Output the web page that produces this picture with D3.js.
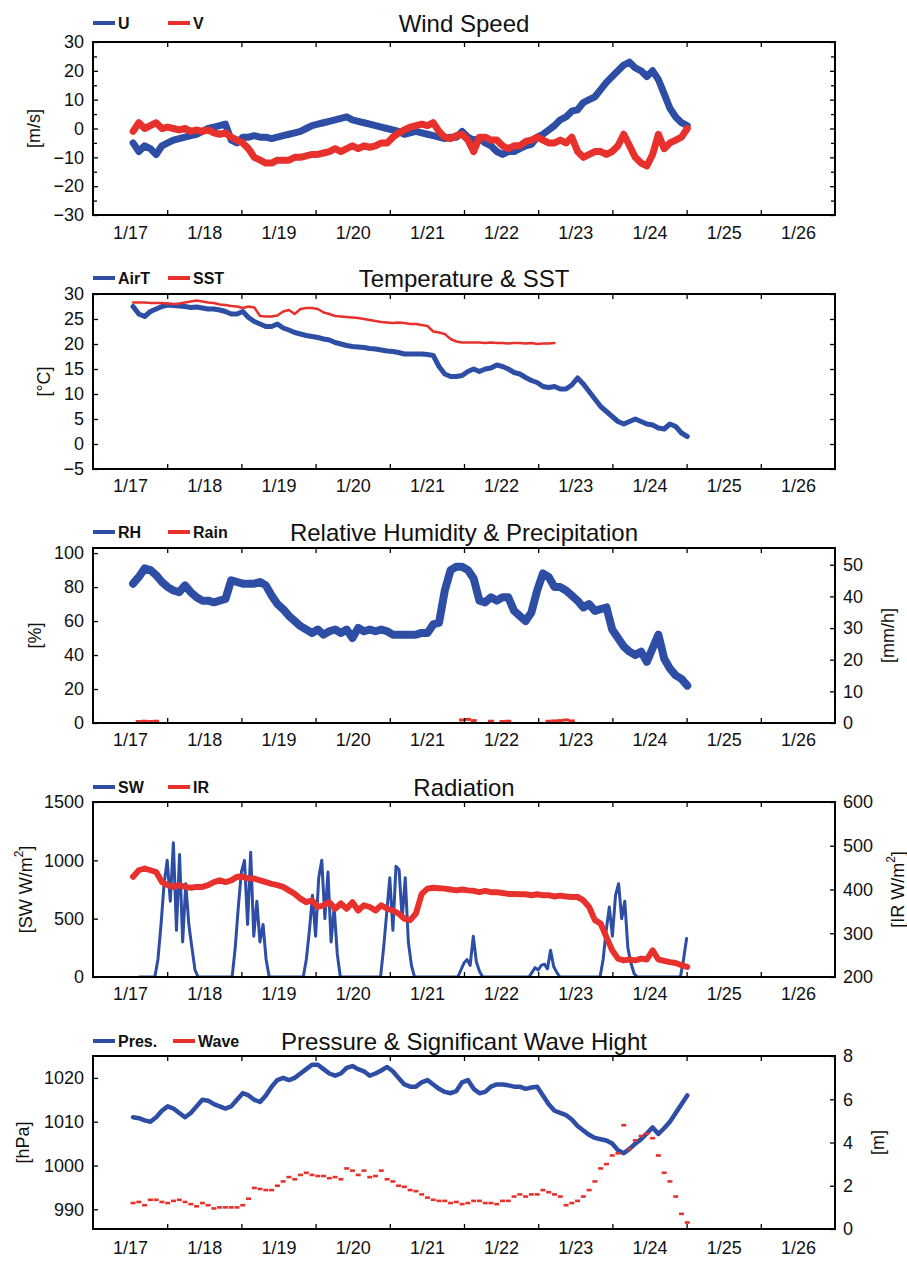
<!DOCTYPE html>
<html>
<head>
<meta charset="utf-8">
<script src="https://cdn.jsdelivr.net/npm/d3@7"></script>
<style>
  body { margin: 0; background: #fff; }
  svg { display: block; font-family: "Liberation Sans", Arial, Helvetica, sans-serif; }
</style>
</head>
<body>
<svg id="chart" width="907" height="1261"></svg>
<script>
// ---- time axis ----
const dayLabels = ["1/17","1/18","1/19","1/20","1/21","1/22","1/23","1/24","1/25","1/26"];
const dayValues = [17,18,19,20,21,22,23,24,25,26];
const dayBoundaries = [17.5,18.5,19.5,20.5,21.5,22.5,23.5,24.5,25.5];

// regular observation grid (day of January)
const sampleStart = 17.04;
const sampleStep = 0.0778;

// ---- wind [m/s] ----
const windU = [
  -5,-8,-6,-7,-9,-6,-5,-4,-3.5,-3,
  -2.5,-2,-1,0,0.5,1,1.5,-4,-5,-3,
  -3,-2.5,-3,-3,-3.5,-3,-2.5,-2,-1.5,-1,
  0,1,1.5,2,2.5,3,3.5,4,3,2.5,
  2,1.5,1,0.5,0,-0.5,-1,-2,-1.5,-1,
  -1.5,-2,-2.5,-3,-3.5,-3,-3,-1,-3,-4,
  -3.5,-5,-6,-8,-9,-8,-8,-7,-6,-5.5,
  -3,-2,-0.5,1,3,4,6,6.5,9,10,
  11,13.5,16,18,20,22,23,21,20,18,
  20,17,12,7,4,2,1
];
const windV = [
  -1,2,0,1,2,0,0.5,0,-0.5,0,
  -1,-0.5,-1,-0.5,-1.5,-2,-1.5,-3,-4,-5,
  -7,-10,-11,-12,-12,-11,-11,-11,-10,-10,
  -9.5,-9,-9,-8.5,-8,-7,-8,-7,-6,-7,
  -6,-6.5,-6,-5,-5,-3,-1.5,-0.5,0.5,1,
  1.5,1,2,-1,-3,-3.5,-2.5,-2,-4,-8,
  -3,-3,-4,-4,-6,-7,-6,-6,-4.5,-4,
  -3,-4,-5,-5,-4,-5,-3,-8,-10,-9,
  -8,-8,-9,-8,-6,-2,-6,-10,-12,-13,
  -9,-2,-7,-5,-4,-3,0
];

// ---- temperature [deg C] ----
const airT = [
  27.5,26,25.5,26.5,27,27.5,27.8,27.7,27.6,27.5,
  27.3,27.4,27.2,27,27,26.8,26.5,26,26,26.5,
  25.3,24.5,24,23.5,23.5,24,23.2,22.8,22.3,22,
  21.7,21.5,21.3,21,20.8,20.3,20,19.7,19.5,19.4,
  19.3,19.1,19,18.8,18.6,18.5,18.3,18,18,18,
  18,17.9,17.7,15.5,14,13.5,13.5,13.7,14.5,15,
  14.5,15,15.2,15.8,15.5,15,14.3,14,13.3,12.7,
  12.3,11.5,11.3,11.5,11,11,11.8,13.2,12,10.5,
  9,7.5,6.5,5.5,4.5,4,4.5,5,4.5,4,
  3.8,3.2,3,4,3.5,2.2,1.5
];
const sst = [
  28.3,28.3,28.3,28.2,28.2,28.2,28.1,28.0,28.1,28.3,
  28.5,28.7,28.5,28.3,28.2,27.9,27.8,27.6,27.5,27.2,
  27.5,27.3,25.6,25.5,25.5,25.7,26.5,26.8,26,27,
  27.2,27.2,27,26.3,26,25.6,25.5,25.4,25.3,25.2,
  25,24.8,24.6,24.4,24.3,24.2,24.3,24.2,24,24,
  23.8,23.6,22.5,22.3,22,21,20.5,20.3,20.3,20.3,
  20.3,20.2,20.3,20.2,20.2,20.1,20.2,20.2,20.1,20.2,
  20,20.1,20.1,20.2
];

// ---- humidity [%] and rain [mm/h] ----
const relHum = [
  82,86,91,90,87,83,80,78,77,81,
  77,74,72,72,71,72,73,84,83,82,
  82,82,83,81,75,70,67,63,60,57,
  55,53,55,52,54,55,53,55,50,56,
  54,55,54,55,54,52,52,52,52,52,
  53,53,58,59,78,90,92,92,90,85,
  72,71,74,72,74,74,66,63,60,65,
  78,88,86,80,80,78,75,72,68,70,
  66,67,68,55,50,45,42,40,42,36,
  44,52,38,32,28,26,22
];
const rain = [
  0,0.3,0.4,0.3,0.4,0,0,0,0,0,
  0,0,0,0,0,0,0,0,0,0,
  0,0,0,0,0,0,0,0,0,0,
  0,0,0,0,0,0,0,0,0,0,
  0,0,0,0,0,0,0,0,0,0,
  0,0,0,0,0,0,0,0.8,1.0,0.6,
  0,0,0.4,0,0.3,0.4,0,0,0,0,
  0,0,0.4,0.5,0.6,0.8,0.5,0,0,0,
  0,0,0,0,0,0,0,0,0,0,
  0,0,0,0,0,0,0
];

// ---- radiation [W/m2] ----
const infrared = [
  429,444,448,444,440,417,410,406,410,406,
  404,406,406,410,417,421,417,421,429,429,
  425,425,421,417,413,410,406,398,390,379,
  371,375,360,364,371,356,368,356,371,352,
  364,360,352,364,356,352,345,333,330,345,
  390,402,404,403,402,400,398,400,398,397,
  394,397,394,394,392,390,390,389,389,387,
  389,387,387,384,386,384,383,383,375,360,
  330,322,291,261,242,238,240,238,242,240,
  261,240,237,234,232,227,223
];
// shortwave: hourly values, first value at 03:00 on 1/17
const swStartHour = 3;
const shortwave = [
  0,0,0,0,0,
  0,150,450,800,1000,650,1150,400,1050,300,800,450,250,60,0,
  0,0,0,0,0,0,0,0,0,0,
  0,250,600,900,1000,450,1070,350,650,300,450,150,0,
  0,0,0,0,0,0,0,0,0,0,
  0,150,400,700,350,850,1000,500,900,300,600,200,0,
  0,0,0,0,0,0,0,0,0,0,0,0,
  0,250,550,850,400,950,920,500,850,300,100,0,
  0,0,0,0,0,0,0,0,0,0,0,0,0,
  0,60,120,150,100,350,130,50,0,
  0,0,0,0,0,0,0,0,0,0,0,0,0,0,
  0,40,80,60,100,110,70,230,90,40,0,
  0,0,0,0,0,0,0,0,0,0,0,0,
  0,150,400,600,350,700,800,500,650,250,120,30,0,
  0,0,0,0,0,0,0,0,0,0,0,0,0,
  0,150,330
];

// ---- pressure [hPa] and significant wave height [m] ----
const pressure = [
  1011,1010.8,1010.3,1010,1011,1012.5,1013.5,1013,1012,1011,
  1012,1013.5,1015,1014.8,1014,1013.5,1013,1013.5,1015,1016.5,
  1016,1015,1014.5,1016,1018,1019.5,1020,1019.5,1020,1021,
  1022,1023,1023,1022,1021,1020.5,1021,1022.3,1022.7,1022,
  1021.5,1020.5,1021,1021.7,1022.5,1021.5,1020,1018.5,1018,1018,
  1019,1019.5,1018.5,1017.5,1016.8,1016.5,1017,1019,1019.5,1017.5,
  1016.5,1016.8,1018,1018.5,1018.5,1018.3,1018,1018,1017.5,1017.8,
  1018,1016,1014,1012.5,1012,1011.5,1010.5,1009,1008,1007,
  1006.3,1006,1005.7,1005,1003.5,1002.8,1003.8,1005,1006,1007.3,
  1008.7,1007.2,1008.5,1010,1012,1014,1016
];
const waveHeight = [
  1.2,1.25,1.1,1.35,1.35,1.25,1.2,1.3,1.35,1.25,
  1.15,1.05,1.2,1.1,0.95,1.0,1.0,1.0,1.0,1.1,
  1.4,1.9,1.85,1.8,1.8,2.0,2.2,2.4,2.3,2.5,
  2.6,2.5,2.45,2.45,2.35,2.4,2.3,2.8,2.7,2.5,
  2.7,2.4,2.45,2.7,2.3,2.2,2.0,1.95,1.8,1.75,
  1.6,1.45,1.35,1.3,1.3,1.2,1.25,1.15,1.2,1.3,
  1.3,1.2,1.2,1.15,1.3,1.3,1.5,1.6,1.5,1.6,
  1.6,1.8,1.7,1.6,1.5,1.1,1.2,1.3,1.5,1.8,
  2.2,2.8,3.0,3.4,3.5,4.8,3.7,4.1,4.3,4.4,
  4.2,3.4,2.6,2.2,1.5,0.7,0.3
];

// ---- drawing ----
const BLUE = "#2d4ea4";
const RED = "#e8312c";
const plotLeft = 93, plotRight = 835;
const svg = d3.select("#chart");
svg.append("rect").attr("width", 907).attr("height", 1261).attr("fill", "#fff");

const x = d3.scaleLinear().domain([16.5, 26.5]).range([plotLeft, plotRight]);
const tAt = i => sampleStart + i * sampleStep;
const asPoints = arr => arr.map((v, i) => [tAt(i), v]);

function styleAxis(sel) {
  sel.select(".domain").remove();
  sel.selectAll(".tick line").attr("stroke", "#000").attr("stroke-width", 1.3);
  sel.selectAll(".tick text").attr("fill", "#111").style("font-size", "18px");
}

function drawPanel(p) {
  const g = svg.append("g");
  const y = d3.scaleLinear().domain(p.yDomain).range([p.bottom, p.top]);
  const y2 = p.y2Domain ? d3.scaleLinear().domain(p.y2Domain).range([p.bottom, p.top]) : null;

  const clipId = "clip" + p.id;
  g.append("clipPath").attr("id", clipId)
    .append("rect").attr("x", plotLeft).attr("y", p.top)
    .attr("width", plotRight - plotLeft).attr("height", p.bottom - p.top);
  const data = g.append("g").attr("clip-path", `url(#${clipId})`);
  p.draw(data, y, y2);

  // left axis
  g.append("g").attr("transform", `translate(${plotLeft},0)`)
    .call(d3.axisLeft(y).tickValues(p.yTicks).tickSize(-5).tickPadding(9).tickFormat(d3.format("d")))
    .call(styleAxis);
  if (p.yMinor) {
    g.append("g").attr("transform", `translate(${plotLeft},0)`)
      .call(d3.axisLeft(y).tickValues(p.yMinor).tickSize(-4).tickFormat(""))
      .call(styleAxis);
    g.append("g").attr("transform", `translate(${plotRight},0)`)
      .call(d3.axisRight(y).tickValues(p.yMinor).tickSize(-4).tickFormat(""))
      .call(styleAxis);
  }
  if (y2) {
    g.append("g").attr("transform", `translate(${plotRight},0)`)
      .call(d3.axisRight(y2).tickValues(p.y2Ticks).tickSize(-5).tickPadding(8).tickFormat(d3.format("d")))
      .call(styleAxis);
  } else {
    g.append("g").attr("transform", `translate(${plotRight},0)`)
      .call(d3.axisRight(y).tickValues(p.yTicks).tickSize(-5).tickFormat(""))
      .call(styleAxis);
  }

  // time axis: ticks between days, labels centred on each day
  g.append("g").attr("transform", `translate(0,${p.bottom})`)
    .call(d3.axisBottom(x).tickValues(dayBoundaries).tickSize(-5).tickFormat(""))
    .call(styleAxis);
  g.append("g").attr("transform", `translate(0,${p.top})`)
    .call(d3.axisTop(x).tickValues(dayBoundaries).tickSize(-5).tickFormat(""))
    .call(styleAxis);
  g.append("g").attr("transform", `translate(0,${p.bottom})`)
    .call(d3.axisBottom(x).tickValues(dayValues).tickSize(0).tickPadding(p.xPad)
      .tickFormat((d, i) => dayLabels[i]))
    .call(styleAxis);

  // frame
  g.append("rect").attr("x", plotLeft).attr("y", p.top)
    .attr("width", plotRight - plotLeft).attr("height", p.bottom - p.top)
    .attr("fill", "none").attr("stroke", "#000").attr("stroke-width", 2);

  // title
  g.append("text").attr("x", (plotLeft + plotRight) / 2).attr("y", p.titleY)
    .attr("text-anchor", "middle").attr("dominant-baseline", "central")
    .style("font-size", "24px").attr("fill", "#111").text(p.title);

  // legend
  p.legend.forEach(L => {
    g.append("line").attr("x1", L.x).attr("x2", L.x + 22)
      .attr("y1", p.titleY).attr("y2", p.titleY)
      .attr("stroke", L.color).attr("stroke-width", 4);
    g.append("text").attr("x", L.x + 25).attr("y", p.titleY)
      .attr("dominant-baseline", "central").style("font-size", "16px")
      .style("font-weight", "bold").attr("fill", "#111").text(L.label);
  });

  // axis titles
  const yMid = (p.top + p.bottom) / 2;
  const yl = g.append("text").attr("transform", `translate(${p.yLabelX},${yMid}) rotate(-90)`)
    .attr("text-anchor", "middle").attr("dominant-baseline", "central")
    .style("font-size", "18px").attr("fill", "#111");
  p.yLabel.forEach(part => {
    const ts = yl.append("tspan").text(part.t);
    if (part.sup) ts.attr("baseline-shift", "super").style("font-size", "12px");
  });
  if (p.y2Label) {
    const yr = g.append("text").attr("transform", `translate(${p.y2LabelX},${yMid}) rotate(-90)`)
      .attr("text-anchor", "middle").attr("dominant-baseline", "central")
      .style("font-size", "18px").attr("fill", "#111");
    p.y2Label.forEach(part => {
      const ts = yr.append("tspan").text(part.t);
      if (part.sup) ts.attr("baseline-shift", "super").style("font-size", "12px");
    });
  }
}

function band(sel, pts, y, color, width) {
  sel.append("path").datum(pts)
    .attr("d", d3.line().defined(d => d[1] != null).x(d => x(d[0])).y(d => y(d[1])))
    .attr("fill", "none").attr("stroke", color).attr("stroke-width", width)
    .attr("stroke-linejoin", "round").attr("stroke-linecap", "round");
}

// 1. Wind speed
drawPanel({
  id: 1, top: 42, bottom: 215, titleY: 23, xPad: 11,
  title: "Wind Speed",
  yDomain: [-30, 30], yTicks: [-30,-20,-10,0,10,20,30], yMinor: [-25,-15,-5,5,15,25],
  yLabel: [{t: "[m/s]"}], yLabelX: 34,
  legend: [{x: 93, color: BLUE, label: "U"}, {x: 168, color: RED, label: "V"}],
  draw: (s, y) => {
    band(s, asPoints(windU), y, BLUE, 7);
    band(s, asPoints(windV), y, RED, 7);
  }
});

// 2. Temperature & SST
drawPanel({
  id: 2, top: 294, bottom: 469, titleY: 278, xPad: 10,
  title: "Temperature & SST",
  yDomain: [-5, 30], yTicks: [-5,0,5,10,15,20,25,30],
  yLabel: [{t: "[°C]"}], yLabelX: 44,
  legend: [{x: 93, color: BLUE, label: "AirT"}, {x: 168, color: RED, label: "SST"}],
  draw: (s, y) => {
    band(s, asPoints(airT), y, BLUE, 5);
    band(s, asPoints(sst), y, RED, 2.5);
  }
});

// 3. Relative humidity & precipitation
drawPanel({
  id: 3, top: 548, bottom: 723, titleY: 532, xPad: 10,
  title: "Relative Humidity & Precipitation",
  yDomain: [0, 103], yTicks: [0,20,40,60,80,100],
  y2Domain: [0, 55.3], y2Ticks: [0,10,20,30,40,50],
  yLabel: [{t: "[%]"}], yLabelX: 35,
  y2Label: [{t: "[mm/h]"}], y2LabelX: 888,
  legend: [{x: 93, color: BLUE, label: "RH"}, {x: 168, color: RED, label: "Rain"}],
  draw: (s, y, y2) => {
    band(s, asPoints(relHum), y, BLUE, 8);
    s.selectAll("rect.rain").data(asPoints(rain).filter(d => d[1] > 0)).enter()
      .append("rect").attr("class", "rain")
      .attr("x", d => x(d[0]) - 3).attr("y", d => y2(d[1]) - 2)
      .attr("width", 6).attr("height", 3).attr("fill", RED);
  }
});

// 4. Radiation
drawPanel({
  id: 4, top: 802, bottom: 977, titleY: 787, xPad: 10,
  title: "Radiation",
  yDomain: [0, 1500], yTicks: [0,500,1000,1500],
  y2Domain: [200, 600], y2Ticks: [200,300,400,500,600],
  yLabel: [{t: "[SW W/m"}, {t: "2", sup: true}, {t: "]"}], yLabelX: 26,
  y2Label: [{t: "[IR W/m"}, {t: "2", sup: true}, {t: "]"}], y2LabelX: 898,
  legend: [{x: 93, color: BLUE, label: "SW"}, {x: 168, color: RED, label: "IR"}],
  draw: (s, y, y2) => {
    const swPts = shortwave.map((v, i) => [17 + (swStartHour + i) / 24, v]);
    band(s, swPts, y, BLUE, 3);
    band(s, asPoints(infrared), y2, RED, 6);
  }
});

// 5. Pressure & significant wave height
drawPanel({
  id: 5, top: 1056, bottom: 1229, titleY: 1041, xPad: 12,
  title: "Pressure & Significant Wave Hight",
  yDomain: [985.5, 1025], yTicks: [990,1000,1010,1020],
  y2Domain: [0, 8], y2Ticks: [0,2,4,6,8],
  yLabel: [{t: "[hPa]"}], yLabelX: 23,
  y2Label: [{t: "[m]"}], y2LabelX: 878,
  legend: [{x: 93, color: BLUE, label: "Pres."}, {x: 173, color: RED, label: "Wave"}],
  draw: (s, y, y2) => {
    band(s, asPoints(pressure), y, BLUE, 4.5);
    s.selectAll("rect.wave").data(asPoints(waveHeight)).enter()
      .append("rect").attr("class", "wave")
      .attr("x", d => x(d[0]) - 2.5).attr("y", d => y2(d[1]) - 1.3)
      .attr("width", 5).attr("height", 2.6).attr("fill", RED);
  }
});
</script>
</body>
</html>
